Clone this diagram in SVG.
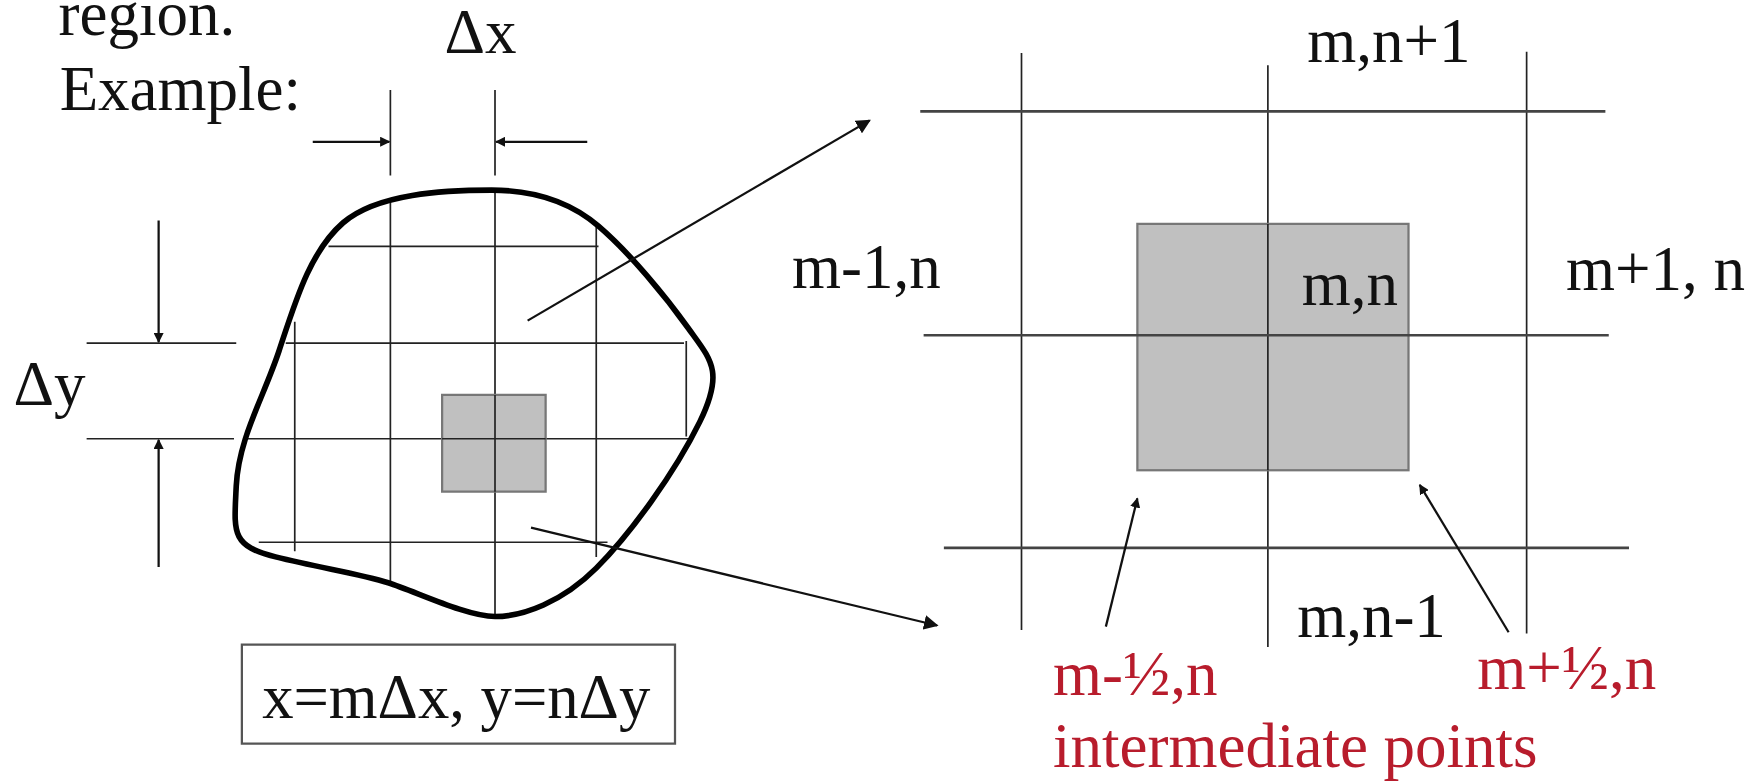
<svg xmlns="http://www.w3.org/2000/svg" width="1764" height="781" viewBox="0 0 1764 781">
<defs>
<style>
.t{font-family:"Liberation Serif","Times New Roman",serif;font-size:56px;fill:#111}
.r{fill:#b81c2c}
.g{stroke:#222;stroke-width:1.5;fill:none}
.gr{stroke:#444;stroke-width:2.4;fill:none}
.c{stroke:#111;stroke-width:2;fill:none}
.sq{fill:#c0c0c0;stroke:#777;stroke-width:2}
</style>
<marker id="ah" viewBox="0 0 10 10" refX="9" refY="5" markerWidth="9" markerHeight="9" markerUnits="userSpaceOnUse" orient="auto"><path d="M0,0 L10,5 L0,10 z" fill="#111"/></marker>
<marker id="ahb" viewBox="0 0 10 10" refX="9" refY="5" markerWidth="13" markerHeight="13" markerUnits="userSpaceOnUse" orient="auto"><path d="M0,0 L10,5 L0,10 z" fill="#111"/></marker>
</defs>
<rect width="1764" height="781" fill="#fff"/>
<g transform="scale(1.125)">
<g id="left-region">
<text class="t" x="52" y="31">region.</text>
<text class="t" x="53" y="98">Example:</text>
<path class="g" d="M262,286 V490 M347,176 V517 M440,169 V548 M530,201 V495 M610,303 V388 M292,219 H532 M254,305 H608 M216,390 H612 M230,482 H540"/>
<rect class="sq" x="393" y="351" width="92" height="86"/>
<path class="g" d="M440,351 V437 M393,390 H485"/>
<path d="M437,169 C395,169 335,172 305,198 S262,270 248,312 S212,390 210,432 S205,485 245,495 S320,510 345,518 S415,548 440,548 S500,535 530,505 S600,420 622,375 S632,320 612,292 S560,225 532,201 S470,169 437,169 Z" fill="none" stroke="#000" stroke-width="5"/>
</g>
<g id="dim-x">
<path class="g" d="M347,80 V156 M440,80 V156"/>
<line class="c" x1="278" y1="126" x2="346" y2="126" marker-end="url(#ah)"/>
<line class="c" x1="522" y1="126" x2="441" y2="126" marker-end="url(#ah)"/>
<text class="t" x="395" y="47">Δx</text>
</g>
<g id="dim-y">
<path class="g" d="M77,305 H210 M77,390 H208"/>
<line class="c" x1="141" y1="196" x2="141" y2="304" marker-end="url(#ah)"/>
<line class="c" x1="141" y1="504" x2="141" y2="391" marker-end="url(#ah)"/>
<text class="t" x="12" y="360">Δy</text>
</g>
<g id="formula">
<rect x="215" y="573" width="385" height="88" fill="none" stroke="#555" stroke-width="2"/>
<text class="t" x="233" y="638" textLength="345" lengthAdjust="spacingAndGlyphs">x=mΔx, y=nΔy</text>
</g>
<g id="right-grid">
<path class="g" d="M908,47 V560 M1127,58 V575 M1357,46 V563"/>
<rect class="sq" x="1011" y="199" width="241" height="219"/>
<path class="g" d="M1127,199 V418"/>
<path class="gr" d="M818,99 H1427 M821,298 H1430 M839,487 H1448"/>
<text class="t" x="1162" y="55">m,n+1</text>
<text class="t" x="704" y="256">m-1,n</text>
<text class="t" x="1157" y="271">m,n</text>
<text class="t" x="1392" y="258">m+1, n</text>
<text class="t" x="1153" y="566">m,n-1</text>
<text class="t r" x="936" y="618">m-½,n</text>
<text class="t r" x="1313" y="612">m+½,n</text>
<text class="t r" x="936" y="682">intermediate points</text>
</g>
<g id="connectors">
<line class="c" x1="469" y1="285" x2="773" y2="107" marker-end="url(#ahb)"/>
<line class="c" x1="472" y1="469" x2="833" y2="556" marker-end="url(#ahb)"/>
<line class="c" x1="983" y1="557" x2="1011" y2="443" marker-end="url(#ah)"/>
<line class="c" x1="1341" y1="562" x2="1262" y2="431" marker-end="url(#ah)"/>
</g>
</g>
</svg>
